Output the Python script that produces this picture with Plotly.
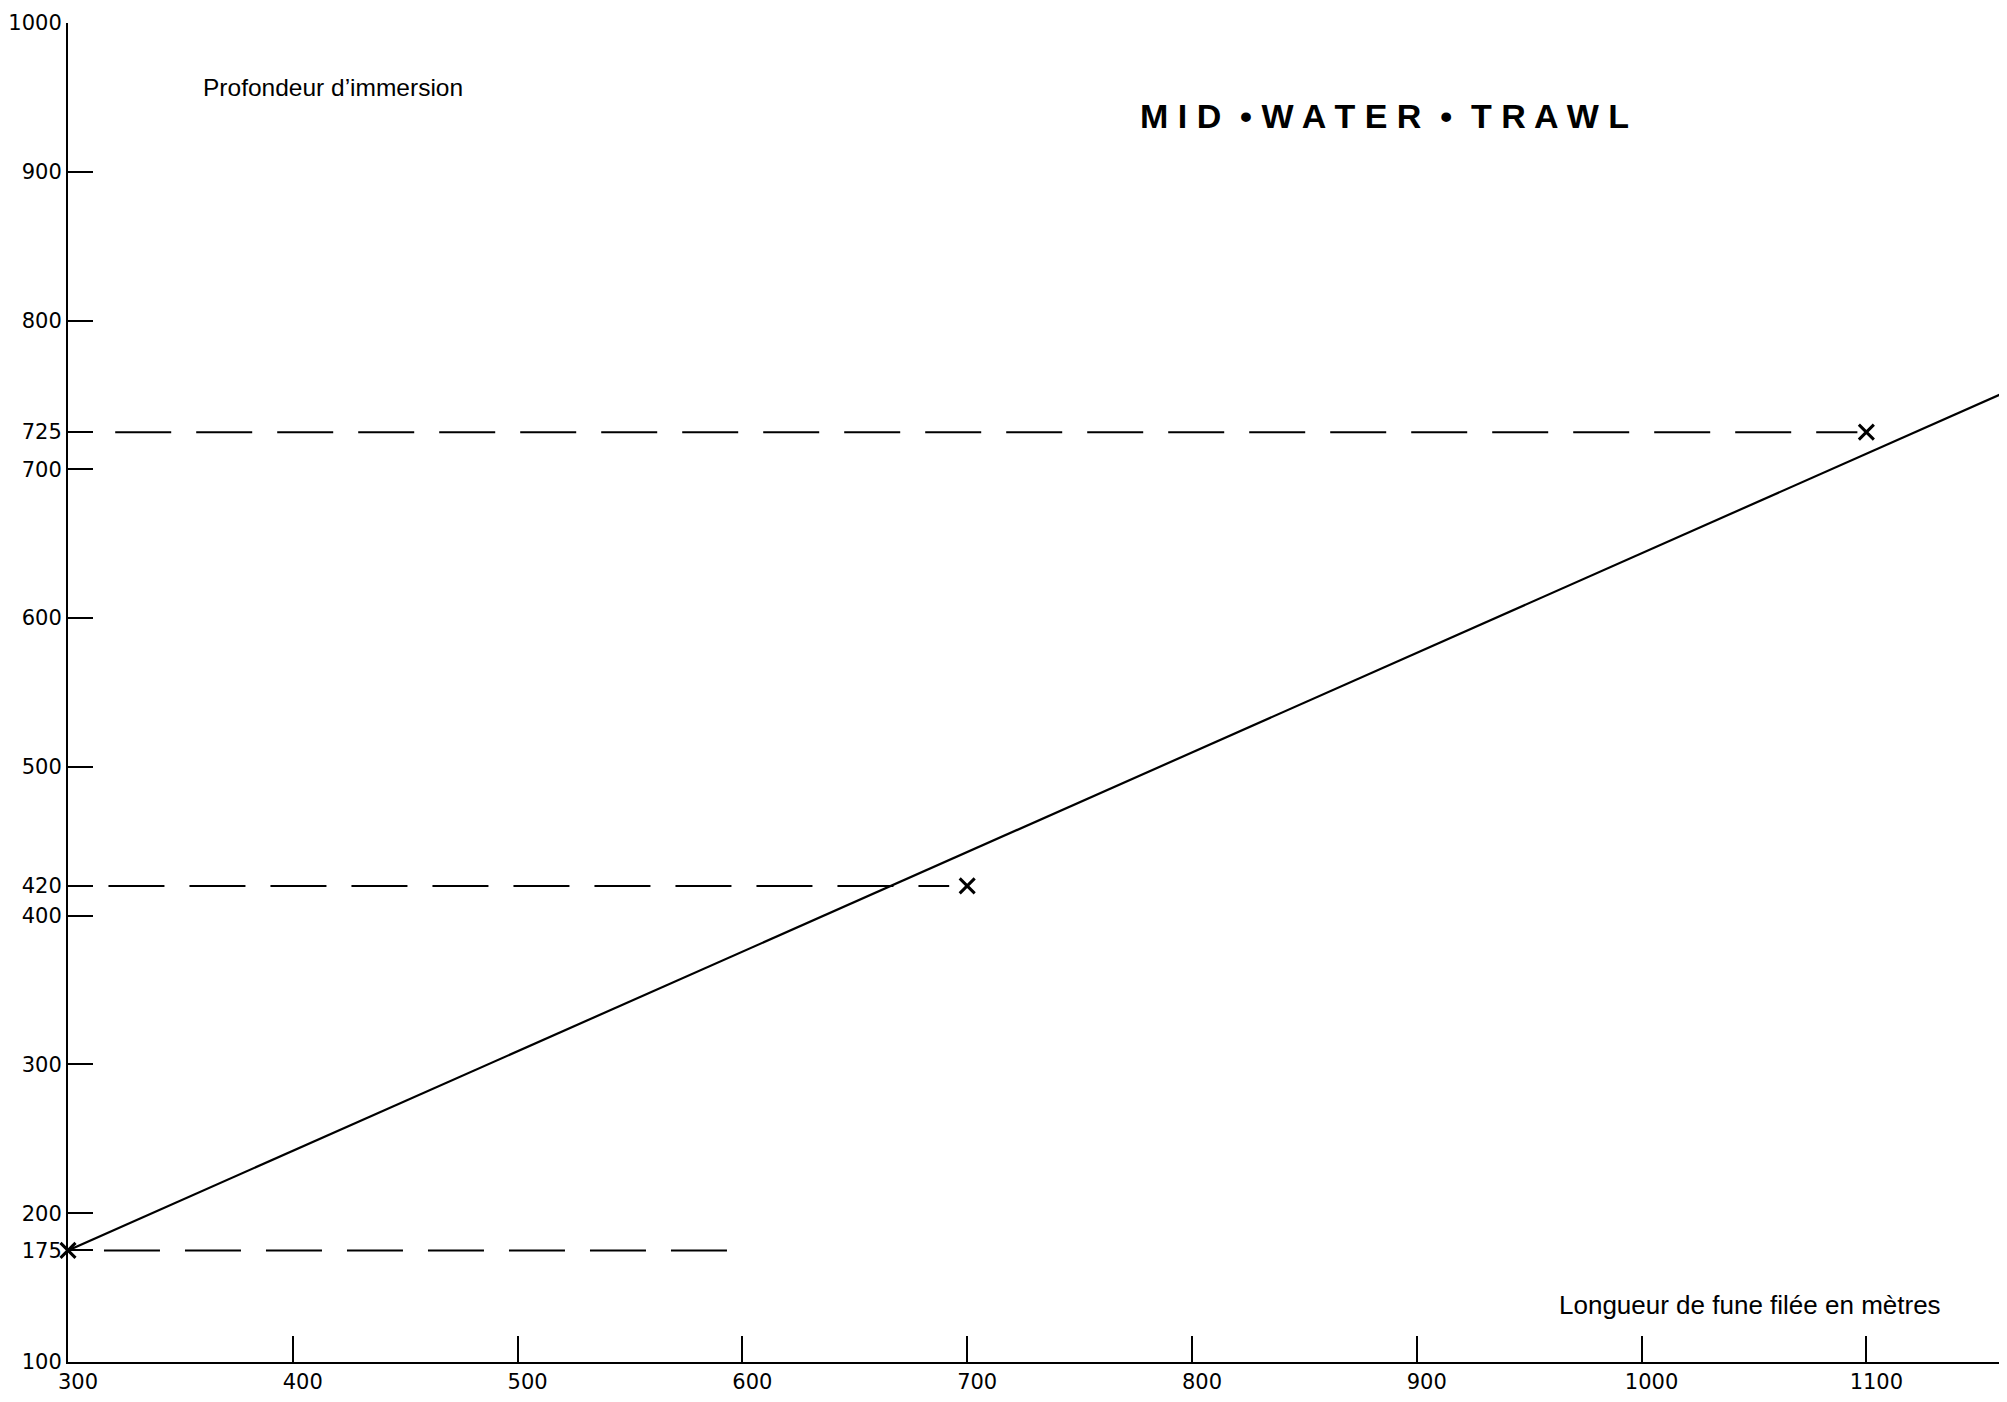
import plotly.graph_objects as go

# Data
line_x = [300, 1162]
line_y = [175, 752]

marker_x = [300, 700, 1100]
marker_y = [175, 420, 725]

dash_y = [725, 420, 175]
dash_start = [321, 318, 316]
dash_end = [1096, 692, 597]

y_ticks = [100, 175, 200, 300, 400, 420, 500, 600, 700, 725, 800, 900, 1000]
y_labels = [str(v) for v in y_ticks]
x_ticks = [300, 400, 500, 600, 700, 800, 900, 1000, 1100]
x_labels = [str(v) for v in x_ticks]

title_text = "M I D \u00a0\u2022 W A T E R \u00a0\u2022\u00a0 T R A W L"
y_title = "Profondeur d\u2019immersion"
x_title = "Longueur de fune fil\u00e9e en m\u00e8tres"

fig = go.Figure()

for yv, x0, x1 in zip(dash_y, dash_start, dash_end):
    fig.add_trace(go.Scatter(
        x=[x0, x1], y=[yv, yv], mode="lines",
        line=dict(color="black", width=2, dash="56px,25px"),
        showlegend=False, hoverinfo="skip"))

fig.add_trace(go.Scatter(
    x=line_x, y=line_y, mode="lines",
    line=dict(color="black", width=2.2),
    showlegend=False))

fig.add_trace(go.Scatter(
    x=marker_x, y=marker_y, mode="markers",
    marker=dict(symbol="x-thin", size=15, line=dict(color="black", width=3)),
    cliponaxis=False, showlegend=False))

tick_font = dict(family="DejaVu Sans", size=21, color="black")

# The page body has an 8px margin; compensate so the plot lands where the reference has it.
fig.update_layout(
    width=1991, height=1386,
    margin=dict(l=54, r=0, t=15, b=30),
    paper_bgcolor="white", plot_bgcolor="white",
    xaxis=dict(
        range=[300, 1159], tickmode="array", tickvals=x_ticks, ticktext=x_labels,
        ticks="inside", ticklen=26, tickwidth=2, tickcolor="black",
        showline=True, linecolor="black", linewidth=2,
        showgrid=False, zeroline=False, tickfont=tick_font,
        ticklabelshift=10,
    ),
    yaxis=dict(
        range=[100, 1000], tickmode="array", tickvals=y_ticks, ticktext=y_labels,
        ticks="inside", ticklen=25, tickwidth=2, tickcolor="black",
        showline=True, linecolor="black", linewidth=2,
        showgrid=False, zeroline=False, tickfont=tick_font,
    ),
    annotations=[
        dict(text=title_text, xref="paper", yref="paper", x=0.682, y=0.9307,
             xanchor="center", yanchor="middle", showarrow=False,
             font=dict(family="Liberation Sans", size=34, color="black", weight="bold")),
        dict(text=y_title, xref="paper", yref="paper", x=0.0689, y=0.9515,
             xanchor="left", yanchor="middle", showarrow=False,
             font=dict(family="Liberation Sans", size=24.5, color="black")),
        dict(text=x_title, xref="paper", yref="paper", x=0.771, y=0.0425,
             xanchor="left", yanchor="middle", showarrow=False,
             font=dict(family="Liberation Sans", size=26, color="black")),
    ],
)

fig.write_html("out.html")
